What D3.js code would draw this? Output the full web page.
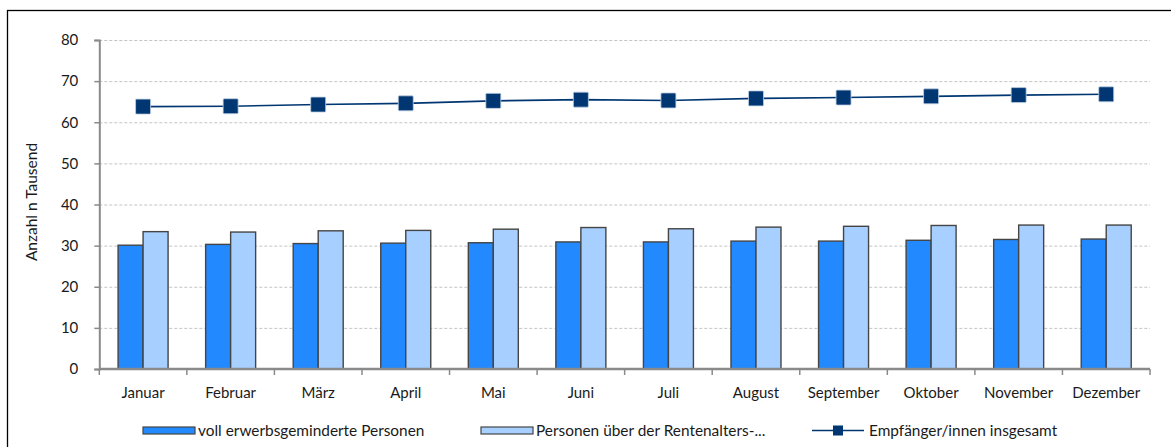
<!DOCTYPE html>
<html>
<head>
<meta charset="utf-8">
<script src="https://cdn.jsdelivr.net/npm/d3@7"></script>
<style>
  body { margin: 0; background: #fff; }
  text { font-family: Lato, "Noto Sans", sans-serif; fill: #1a1a1a; }
</style>
</head>
<body>
<svg id="chart"></svg>
<script>
const months = ['Januar', 'Februar', 'März', 'April', 'Mai', 'Juni', 'Juli', 'August', 'September', 'Oktober', 'November', 'Dezember'];
// Anzahl in Tausend.
const vollErwerbsgemindert = [30.1, 30.3, 30.5, 30.6, 30.7, 30.9, 30.9, 31.1, 31.1, 31.3, 31.5, 31.6];
const ueberRentenalter = [33.4, 33.3, 33.6, 33.7, 34.0, 34.4, 34.1, 34.5, 34.7, 34.9, 35.0, 35.0];
const insgesamt = [63.8, 63.9, 64.3, 64.6, 65.2, 65.5, 65.3, 65.8, 66.0, 66.3, 66.6, 66.8];
const yTicks = [0, 10, 20, 30, 40, 50, 60, 70, 80];
const legendLabels = ['voll erwerbsgeminderte Personen', 'Personen über der Rentenalters-...', 'Empfänger/innen insgesamt'];

const colors = {dark: '#2289ff', light: '#a7cfff', line: '#003671'};
const width = 1171, height = 447;
const plot = {left: 99.3, right: 1150, top: 40, bottom: 369};

const svg = d3.select('#chart').attr('width', width).attr('height', height);

// Outer frame (runs off the right and bottom edge).
svg.append('rect')
  .attr('x', 7.5).attr('y', 10.5).attr('width', width).attr('height', height)
  .attr('fill', 'none').attr('stroke', '#000').attr('stroke-width', 1.3);

const x = d3.scaleBand().domain(months).range([plot.left, plot.right]);
const y = d3.scaleLinear().domain([0, 80]).range([plot.bottom, plot.top]);
const barW = 25;

// Gridlines.
svg.append('g').selectAll('line').data(yTicks.slice(1)).join('line')
  .attr('x1', plot.left).attr('x2', plot.right)
  .attr('y1', (d) => y(d) + 0.5).attr('y2', (d) => y(d) + 0.5)
  .attr('stroke', '#c4c4c4').attr('stroke-width', 1).attr('stroke-dasharray', '3,2');

// Y axis.
const yAxis = svg.append('g')
  .attr('transform', `translate(${plot.left}, 0)`)
  .call(d3.axisLeft(y).tickValues(yTicks).tickSize(5).tickPadding(16));
yAxis.select('.domain').attr('stroke', '#8a8a8a').attr('stroke-width', 2);
yAxis.selectAll('.tick line').attr('stroke', '#8a8a8a').attr('stroke-width', 1.5);
yAxis.selectAll('.tick text').style('font-size', '15px').style('font-family', 'Lato, sans-serif').attr('fill', '#1a1a1a');

svg.append('text')
  .attr('transform', `translate(37, 202) rotate(-90)`)
  .attr('text-anchor', 'middle')
  .style('font-size', '15.5px')
  .text('Anzahl n Tausend');

// Bars.
const bars = svg.append('g');
months.forEach((m, i) => {
  const cx = x(m) + x.bandwidth() / 2;
  [[vollErwerbsgemindert[i], colors.dark, cx - barW], [ueberRentenalter[i], colors.light, cx]].forEach(([v, c, x0]) => {
    bars.append('rect')
      .attr('x', x0).attr('y', y(v))
      .attr('width', barW).attr('height', y(0) - y(v))
      .attr('fill', c).attr('stroke', '#454545').attr('stroke-width', 1.4);
  });
});

// X axis with ticks between the categories.
const xAxis = svg.append('g');
xAxis.append('line')
  .attr('x1', plot.left).attr('x2', plot.right)
  .attr('y1', plot.bottom).attr('y2', plot.bottom)
  .attr('stroke', '#8a8a8a').attr('stroke-width', 2.5);
xAxis.selectAll('line.tick').data(months.map((m) => x(m)).concat([plot.right])).join('line')
  .attr('class', 'tick')
  .attr('x1', (d) => d).attr('x2', (d) => d)
  .attr('y1', plot.bottom).attr('y2', plot.bottom + 6)
  .attr('stroke', '#8a8a8a').attr('stroke-width', 1.5);
xAxis.selectAll('text').data(months).join('text')
  .attr('x', (d) => x(d) + x.bandwidth() / 2)
  .attr('y', 398)
  .attr('text-anchor', 'middle')
  .style('font-size', '15px')
  .text((d) => d);

// Total line with square markers.
const line = d3.line()
  .x((d, i) => x(months[i]) + x.bandwidth() / 2)
  .y((d) => y(d));
svg.append('path').datum(insgesamt)
  .attr('d', line).attr('fill', 'none')
  .attr('stroke', colors.line).attr('stroke-width', 1.6);
svg.append('g').selectAll('rect').data(insgesamt).join('rect')
  .attr('x', (d, i) => x(months[i]) + x.bandwidth() / 2 - 7.5)
  .attr('y', (d) => y(d) - 7.5)
  .attr('width', 15).attr('height', 15).attr('rx', 1)
  .attr('fill', colors.line).attr('stroke', '#bfd0e4').attr('stroke-width', 0.8);

// Legend.
const legend = svg.append('g');
const legendY = 430.5;
[[143, colors.dark], [481, colors.light]].forEach(([lx, c], i) => {
  legend.append('rect')
    .attr('x', lx).attr('y', legendY - 3.5).attr('width', 52).attr('height', 7)
    .attr('fill', c).attr('stroke', '#454545').attr('stroke-width', 1.2);
  legend.append('text')
    .attr('x', lx + 55).attr('y', legendY + 5)
    .style('font-size', '15.4px')
    .text(legendLabels[i]);
});
legend.append('line')
  .attr('x1', 812).attr('x2', 864).attr('y1', legendY).attr('y2', legendY)
  .attr('stroke', colors.line).attr('stroke-width', 1.6);
legend.append('rect')
  .attr('x', 833).attr('y', legendY - 5).attr('width', 10).attr('height', 10)
  .attr('fill', colors.line);
legend.append('text')
  .attr('x', 869).attr('y', legendY + 5)
  .style('font-size', '15.4px')
  .text(legendLabels[2]);
</script>
</body>
</html>
